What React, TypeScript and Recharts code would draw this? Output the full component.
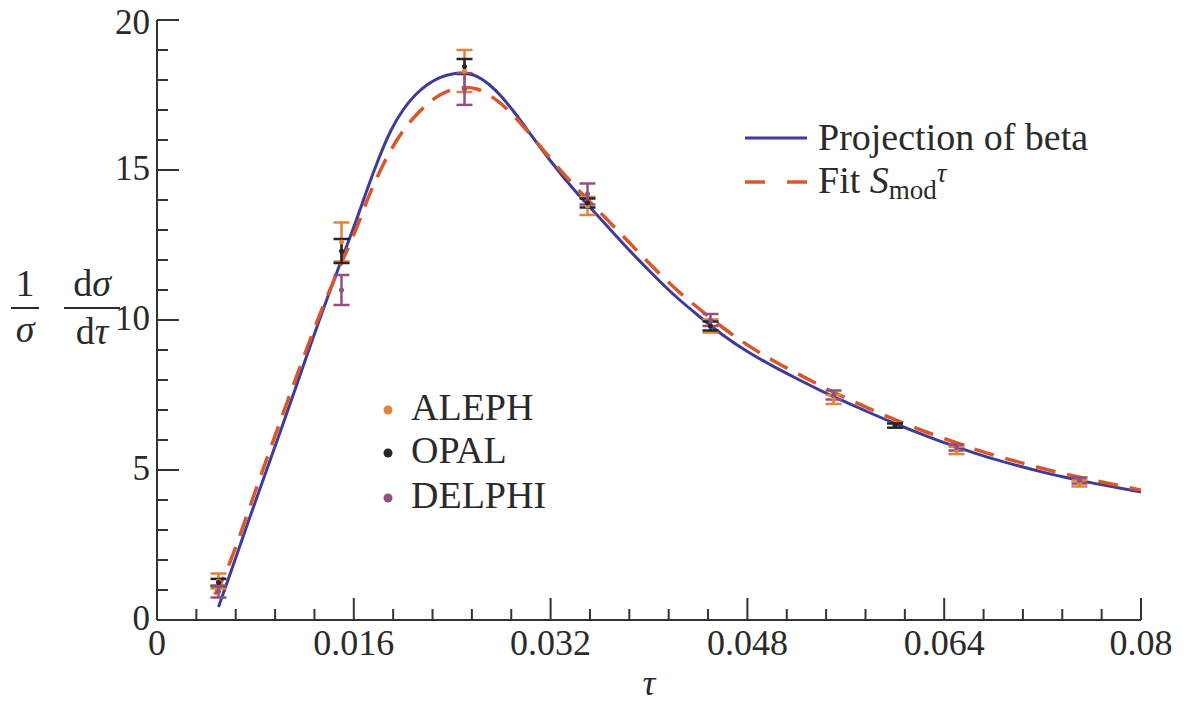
import React from "react";
import { ComposedChart, Line, Scatter, ErrorBar, XAxis, YAxis } from "recharts";

// curves
const PROJ_TAU = [0.005, 0.006, 0.008, 0.01, 0.012, 0.014, 0.016, 0.017, 0.018, 0.019, 0.02, 0.021, 0.022, 0.023, 0.024, 0.025, 0.026, 0.027, 0.028, 0.029, 0.03, 0.032, 0.034, 0.036, 0.038, 0.04, 0.042, 0.044, 0.046, 0.048, 0.05, 0.052, 0.054, 0.056, 0.058, 0.06, 0.062, 0.064, 0.066, 0.068, 0.07, 0.072, 0.074, 0.076, 0.078, 0.08];
const PROJ_VAL = [0.43, 1.6, 3.95, 6.25, 8.6, 10.9, 13.1, 14.25, 15.35, 16.3, 17.0, 17.5, 17.85, 18.08, 18.2, 18.23, 18.12, 17.85, 17.45, 16.95, 16.4, 15.3, 14.3, 13.4, 12.5, 11.65, 10.85, 10.15, 9.5, 8.95, 8.48, 8.05, 7.64, 7.26, 6.9, 6.55, 6.22, 5.91, 5.63, 5.37, 5.14, 4.93, 4.74, 4.57, 4.42, 4.27];

const FIT_TAU = [0.0047, 0.006, 0.008, 0.01, 0.012, 0.014, 0.016, 0.017, 0.018, 0.019, 0.02, 0.021, 0.022, 0.023, 0.024, 0.025, 0.026, 0.027, 0.028, 0.029, 0.03, 0.032, 0.034, 0.036, 0.038, 0.04, 0.042, 0.044, 0.046, 0.048, 0.05, 0.052, 0.054, 0.056, 0.058, 0.06, 0.062, 0.064, 0.066, 0.068, 0.07, 0.072, 0.074, 0.076, 0.078, 0.08];
const FIT_VAL = [0.85, 2.0, 4.3, 6.6, 8.85, 10.95, 12.85, 13.9, 14.85, 15.65, 16.3, 16.8, 17.2, 17.5, 17.68, 17.75, 17.7, 17.5, 17.2, 16.8, 16.35, 15.38, 14.45, 13.6, 12.75, 11.9, 11.1, 10.4, 9.75, 9.17, 8.67, 8.23, 7.8, 7.4, 7.03, 6.68, 6.35, 6.05, 5.76, 5.5, 5.27, 5.05, 4.85, 4.67, 4.5, 4.33];

// measurements
const ALEPH_TAU = [0.005, 0.015, 0.025, 0.035, 0.045, 0.055, 0.065, 0.075];
const ALEPH_VAL = [1.3, 12.6, 18.3, 13.8, 9.8, 7.35, 5.65, 4.55];
const ALEPH_ERR = [0.25, 0.65, 0.7, 0.3, 0.22, 0.15, 0.12, 0.1];

const OPAL_TAU = [0.005, 0.015, 0.025, 0.035, 0.045, 0.06];
const OPAL_VAL = [1.25, 12.3, 18.45, 13.9, 9.8, 6.48];
const OPAL_ERR = [0.12, 0.4, 0.25, 0.15, 0.15, 0.07];

const DELPHI_TAU = [0.005, 0.015, 0.025, 0.035, 0.045, 0.055, 0.065, 0.075];
const DELPHI_VAL = [0.95, 11.0, 17.7, 14.2, 10.0, 7.5, 5.75, 4.65];
const DELPHI_ERR = [0.2, 0.5, 0.53, 0.35, 0.2, 0.15, 0.1, 0.1];

const X_TICK_LABELS = ["0", "0.016", "0.032", "0.048", "0.064", "0.08"];
const Y_TICK_LABELS = ["0", "5", "10", "15", "20"];

const X_STEP = 0.0032;
const xTicks = Array.from({ length: 26 }, (_, i) => Number((i * X_STEP).toFixed(4)));
const yTicks = Array.from({ length: 21 }, (_, i) => i);

const BLUE = "#3d3c98";
const RED = "#d9572b";
const ALEPH_C = "#e3823a";
const OPAL_C = "#262626";
const DELPHI_C = "#92507f";
const AXIS = "#333";
const INK = "#2a2a2a";
const FONT = '"Liberation Serif", "Times New Roman", Times, "Noto Serif", "DejaVu Serif", serif';
const serif = { fontFamily: FONT };

const toPoints = (xs: number[], ys: number[], errs?: number[]) =>
  xs.map((x, i) => ({ x, y: ys[i], err: errs ? errs[i] : 0 }));

const projData = toPoints(PROJ_TAU, PROJ_VAL);
const fitData = toPoints(FIT_TAU, FIT_VAL);
const alephData = toPoints(ALEPH_TAU, ALEPH_VAL, ALEPH_ERR);
const opalData = toPoints(OPAL_TAU, OPAL_VAL, OPAL_ERR);
const delphiData = toPoints(DELPHI_TAU, DELPHI_VAL, DELPHI_ERR);

const xIdx = (v: number) => Math.round(v / X_STEP);

function BottomTick(props: any) {
  const { x, y, payload } = props;
  const i = xIdx(payload.value);
  const major = i % 5 === 0;
  return (
    <g>
      <line x1={x} y1={y} x2={x} y2={y - (major ? 22 : 11)} stroke={AXIS} strokeWidth={2} />
      {major && (
        <text x={x} y={y + 35} textAnchor="middle" fontSize={36} style={serif} fill={INK}>
          {X_TICK_LABELS[i / 5]}
        </text>
      )}
    </g>
  );
}

function TopTick(props: any) {
  const { x, y, payload } = props;
  const major = xIdx(payload.value) % 5 === 0;
  return <line x1={x} y1={y} x2={x} y2={y + (major ? 22 : 11)} stroke={AXIS} strokeWidth={2} />;
}

function LeftTick(props: any) {
  const { x, y, payload } = props;
  const major = payload.value % 5 === 0;
  // the top label sits against the page edge, nudge it down a little
  const dy = payload.value === 20 ? 14 : 10;
  return (
    <g>
      <line x1={x} y1={y} x2={x + (major ? 22 : 11)} y2={y} stroke={AXIS} strokeWidth={2} />
      {major && (
        <text x={x - 7} y={y + dy} textAnchor="end" fontSize={35} style={serif} fill={INK}>
          {Y_TICK_LABELS[payload.value / 5]}
        </text>
      )}
    </g>
  );
}

function RightTick(props: any) {
  const { x, y, payload } = props;
  const major = payload.value % 5 === 0;
  return <line x1={x} y1={y} x2={x - (major ? 22 : 11)} y2={y} stroke={AXIS} strokeWidth={2} />;
}

const dot = (color: string) => (p: any) => <circle cx={p.cx} cy={p.cy} r={2.5} fill={color} />;

export default function App() {
  return (
    <div style={{ position: "relative", width: 1187, height: 706, background: "#fff" }}>
      <style>{`body{margin:0}`}</style>
      <ComposedChart width={1187} height={706} margin={{ top: 20, right: 46, bottom: 0, left: 0 }}>
        <XAxis
          xAxisId={0}
          dataKey="x"
          type="number"
          domain={[0, 0.08]}
          ticks={xTicks}
          interval={0}
          height={86}
          tickSize={0}
          tickMargin={0}
          tick={<BottomTick />}
          axisLine={{ stroke: AXIS, strokeWidth: 2 }}
          allowDataOverflow
        />
        <XAxis
          xAxisId="top"
          orientation="top"
          dataKey="x"
          type="number"
          domain={[0, 0.08]}
          ticks={xTicks}
          interval={0}
          height={0}
          tickSize={0}
          tickMargin={0}
          tick={<TopTick />}
          axisLine={{ stroke: AXIS, strokeWidth: 2 }}
          allowDataOverflow
        />
        <YAxis
          yAxisId={0}
          type="number"
          domain={[0, 20]}
          ticks={yTicks}
          interval={0}
          width={157}
          tickSize={0}
          tickMargin={0}
          tick={<LeftTick />}
          axisLine={{ stroke: AXIS, strokeWidth: 2 }}
          allowDataOverflow
        />
        <YAxis
          yAxisId="right"
          orientation="right"
          type="number"
          domain={[0, 20]}
          ticks={yTicks}
          interval={0}
          width={0}
          tickSize={0}
          tickMargin={0}
          tick={<RightTick />}
          axisLine={{ stroke: AXIS, strokeWidth: 2 }}
          allowDataOverflow
        />
        <Line
          data={projData}
          dataKey="y"
          type="natural"
          stroke={BLUE}
          strokeWidth={3}
          dot={false}
          isAnimationActive={false}
        />
        <Line
          data={fitData}
          dataKey="y"
          type="natural"
          stroke={RED}
          strokeWidth={3.5}
          strokeDasharray="20 12"
          dot={false}
          isAnimationActive={false}
        />
        <Scatter data={alephData} dataKey="y" shape={dot(ALEPH_C)} isAnimationActive={false}>
          <ErrorBar dataKey="err" direction="y" width={8} stroke={ALEPH_C} strokeWidth={2.5} />
        </Scatter>
        <Scatter data={opalData} dataKey="y" shape={dot(OPAL_C)} isAnimationActive={false}>
          <ErrorBar dataKey="err" direction="y" width={8} stroke={OPAL_C} strokeWidth={2.5} />
        </Scatter>
        <Scatter data={delphiData} dataKey="y" shape={dot(DELPHI_C)} isAnimationActive={false}>
          <ErrorBar dataKey="err" direction="y" width={8} stroke={DELPHI_C} strokeWidth={2.5} />
        </Scatter>
      </ComposedChart>

      <svg
        width={1187}
        height={706}
        style={{ position: "absolute", left: 0, top: 0, pointerEvents: "none", fontFamily: FONT }}
      >
        {/* curve legend */}
        <line x1={745} y1={138} x2={807} y2={138} stroke={BLUE} strokeWidth={3} />
        <text x={818} y={150} fontSize={38} fill={INK} style={serif}>Projection of beta</text>
        <line x1={745} y1={182} x2={807} y2={182} stroke={RED} strokeWidth={3.5} strokeDasharray="20 22" />
        <text x={818} y={193} fontSize={38} fill={INK} style={serif}>
          Fit <tspan fontStyle="italic">S</tspan>
          <tspan fontSize={27} dy={6}>mod</tspan>
          <tspan fontSize={27} fontStyle="italic" dy={-17}>τ</tspan>
        </text>

        {/* data legend */}
        <circle cx={388} cy={410} r={4.5} fill={ALEPH_C} />
        <text x={411} y={420} fontSize={38} fill={INK} style={serif}>ALEPH</text>
        <circle cx={388} cy={453} r={4.5} fill={OPAL_C} />
        <text x={411} y={463} fontSize={38} fill={INK} style={serif}>OPAL</text>
        <circle cx={388} cy={498} r={4.5} fill={DELPHI_C} />
        <text x={411} y={508} fontSize={38} fill={INK} style={serif}>DELPHI</text>

        {/* axis titles */}
        <text x={25} y={296} fontSize={38} textAnchor="middle" fill={INK} style={serif}>1</text>
        <line x1={11} y1={308} x2={39} y2={308} stroke={INK} strokeWidth={2} />
        <text x={25} y={342} fontSize={38} textAnchor="middle" fontStyle="italic" fill={INK} style={serif}>σ</text>
        <text x={92} y={296} fontSize={38} textAnchor="middle" fill={INK} style={serif}>
          d<tspan fontStyle="italic">σ</tspan>
        </text>
        <line x1={64} y1={308} x2={120} y2={308} stroke={INK} strokeWidth={2} />
        <text x={92} y={344} fontSize={38} textAnchor="middle" fill={INK} style={serif}>
          d<tspan fontStyle="italic">τ</tspan>
        </text>
        <text x={649} y={695} fontSize={36} textAnchor="middle" fontStyle="italic" fill={INK} style={serif}>τ</text>
      </svg>
    </div>
  );
}
